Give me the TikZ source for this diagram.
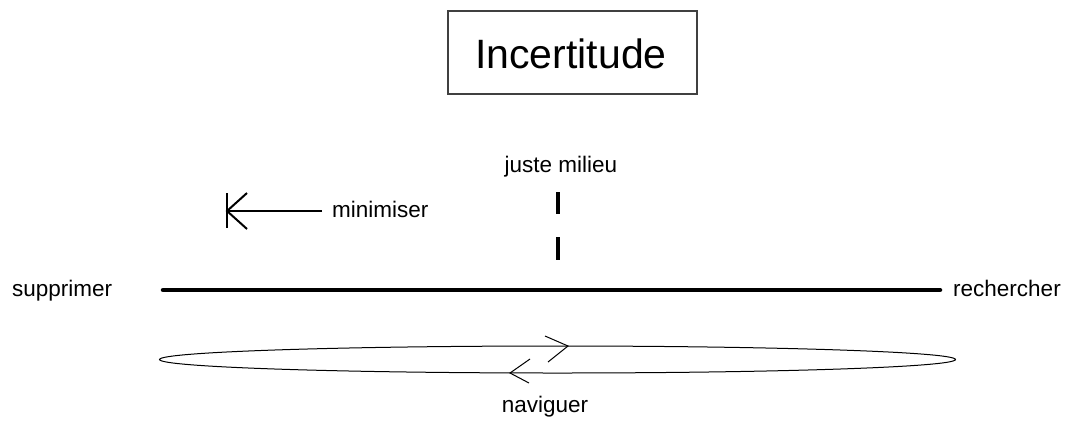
\documentclass[tikz,border=0pt]{standalone}
\usepackage{fontspec}
\setmainfont{Liberation Sans}
\usetikzlibrary{shapes.geometric}
\begin{document}
\begin{tikzpicture}[x=1pt,y=-1pt,
  lbl/.style={inner sep=0pt, anchor=base, font=\fontsize{22.5}{27}\selectfont},
  thin line/.style={line width=1pt, black},
  dashmark/.style={line width=3.5pt, black}]
\useasboundingbox (0,0) rectangle (1075,421);
% title
\draw[line width=1.2pt, black!75] (448,11) rectangle (697,94);
\node[inner sep=0pt, anchor=base, font=\fontsize{41}{48}\selectfont] (title) at (571,68) {Incertitude};
% labels
\node[lbl, anchor=base west] (supp) at (12,296) {supprimer};
\node[lbl, anchor=base west] (rech) at (953,296) {rechercher};
\node[lbl] (juste) at (561,172) {juste milieu};
\node[lbl, anchor=base west] (minim) at (332,217) {minimiser};
\node[lbl] (nav) at (545,412) {naviguer};
% main axis
\coordinate (axL) at (163,290);
\coordinate (axR) at (940,290);
\draw[line width=4.5pt, line cap=round] (axL) -- (axR);
% juste milieu marks
\coordinate (d1a) at (558,192); \coordinate (d1b) at (558,214);
\coordinate (d2a) at (558,237); \coordinate (d2b) at (558,260);
\draw[dashmark] (d1a) -- (d1b);
\draw[dashmark] (d2a) -- (d2b);
% minimiser arrow
\coordinate (mtip) at (227,211);
\coordinate (mstart) at (322,211);
\draw[line width=2pt] (mstart) -- (mtip);
\draw[line width=2pt] (247,193) -- (mtip) -- (247,229);
\draw[line width=2.5pt] (227,193) -- (227,228);
% naviguer ellipse
\node[draw, thin line, ellipse, minimum width=796pt, minimum height=27pt, inner sep=0pt] (ell) at (557.5,359.5) {};
\draw[thin line] (545,336) -- (568,346) -- (548,362);
\draw[thin line] (530,359) -- (510,373) -- (529,383);
\end{tikzpicture}
\end{document}
